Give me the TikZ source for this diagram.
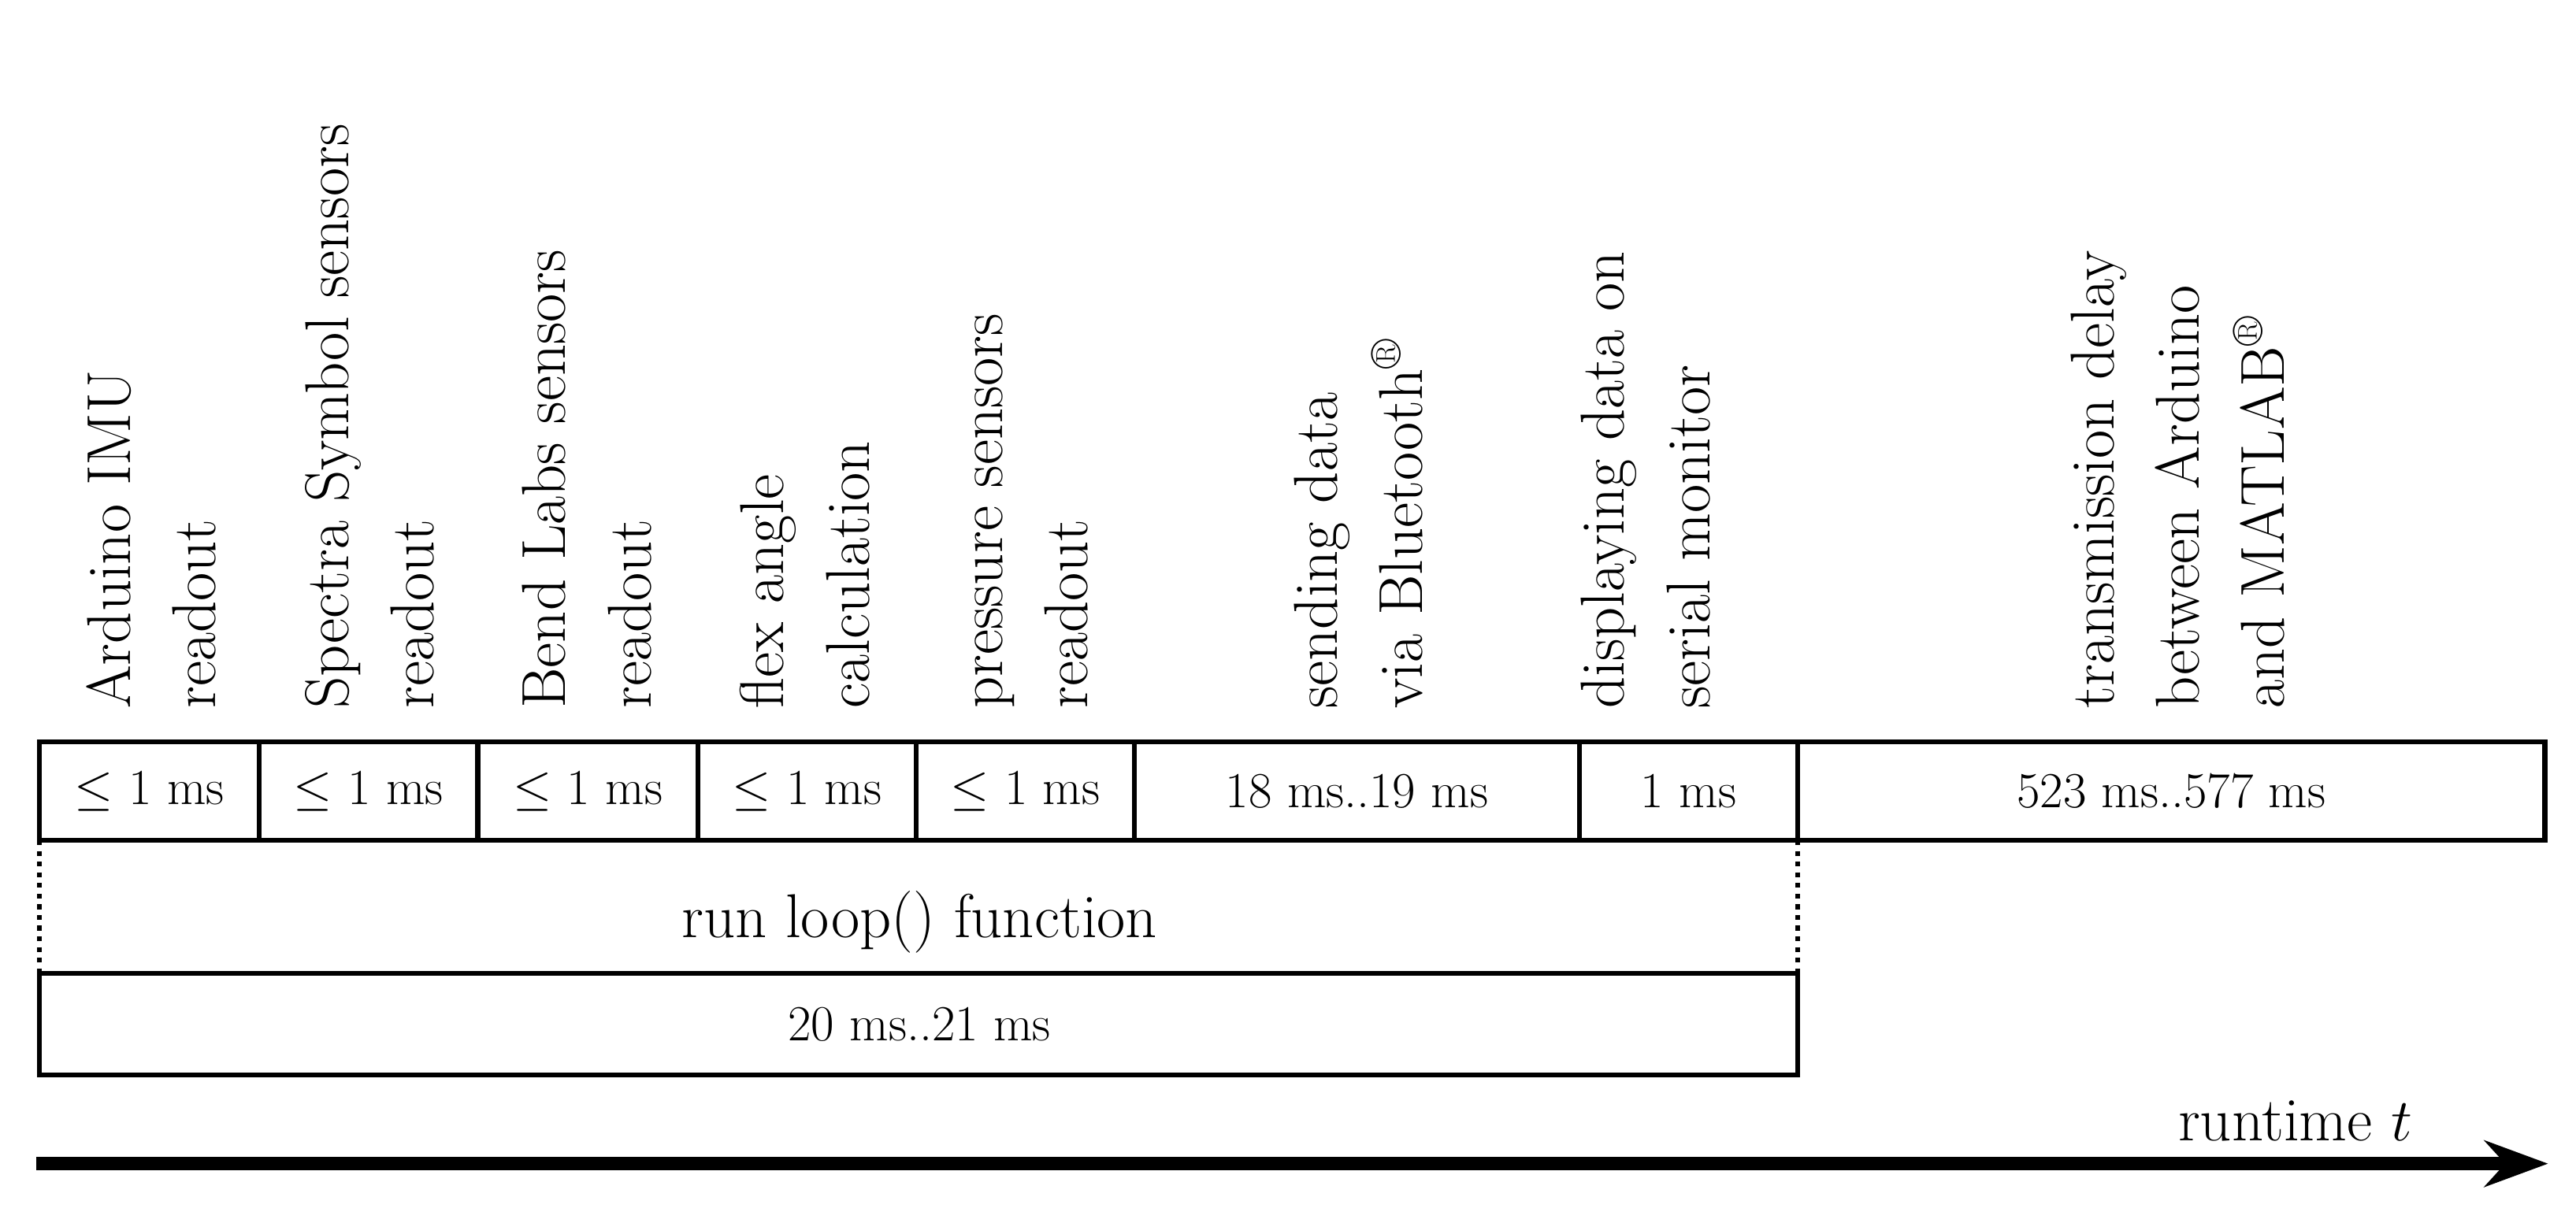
\documentclass[tikz,border=0pt]{standalone}
\usetikzlibrary{arrows.meta}
\begin{document}
\begin{tikzpicture}[x=0.02cm,y=0.02cm,
  cell/.style={draw,line width=1.7pt},
  celltext/.style={font=\fontsize{17.5}{21}\selectfont},
  lbl/.style={rotate=90,anchor=south west,align=left,inner sep=0pt,font=\fontsize{21.5}{29.6}\selectfont},
  big/.style={font=\fontsize{21.5}{26}\selectfont}]
\useasboundingbox (0,0) rectangle (1569,745);
% boxes row: y from 745-512=233 to 745-452=293
\foreach \a/\b/\t [count=\i] in {24/158/{$\leq$ 1 ms},158/291/{$\leq$ 1 ms},291/425/{$\leq$ 1 ms},425/558/{$\leq$ 1 ms},558/691/{$\leq$ 1 ms},691/962/{18 ms..19 ms},962/1095/{1 ms},1095/1550/{523 ms..577 ms}}{
  \draw[cell] (\a,233) rectangle (\b,293);
  \node[celltext] (c\i) at ({(\a+\b)/2},263) {\t};
}
% labels (anchor south west of rotated node = bottom-right visually -> use x as right edge)
\node[lbl] (l1) at (132,313) {Arduino IMU\\readout};
\node[lbl] (l2) at (265,313) {Spectra Symbol sensors\\readout};
\node[lbl] (l3) at (397,313) {Bend Labs sensors\\readout};
\node[lbl] (l4) at (530,313) {flex angle\\calculation};
\node[lbl] (l5) at (663,313) {pressure sensors\\readout};
\node[lbl] (l6) at (867,313) {sending data\\via Bluetooth\textsuperscript{\textregistered}};
\node[lbl] (l7) at (1042,313) {displaying data on\\serial monitor};
\node[lbl] (l8) at (1392,313) {transmission delay\\between Arduino\\and MATLAB\textsuperscript{\textregistered}};
% loop
\coordinate (d1a) at (24,233); \coordinate (d1b) at (24,152);
\coordinate (d2a) at (1095,233); \coordinate (d2b) at (1095,152);
\draw[line width=1.7pt,dotted] (d1a) -- (d1b);
\draw[line width=1.7pt,dotted] (d2a) -- (d2b);
\node[big] (run) at (560,183) {run loop() function};
\draw[cell] (24,90) rectangle (1095,152);
\node[celltext] (loop) at (560,121) {20 ms..21 ms};
% runtime arrow
\coordinate (r0) at (22,36); \coordinate (r1) at (1552,36);
\draw[line width=4.5pt,-{Stealth[length=22pt,width=16pt]}] (r0) -- (r1);
\node[big] (rt) at (1398,62) {runtime $t$};
\end{tikzpicture}
\end{document}
